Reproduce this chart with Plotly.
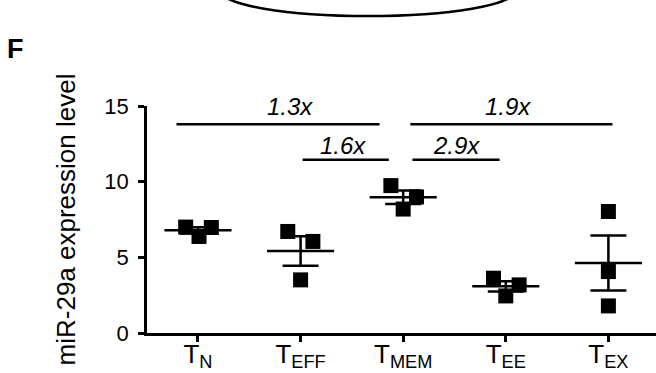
import numpy as np
import plotly.graph_objects as go

# ---- data ----
groups = ["N", "EFF", "MEM", "EE", "EX"]
tick_labels = ["T<sub>N</sub>", "T<sub>EFF</sub>", "T<sub>MEM</sub>", "T<sub>EE</sub>", "T<sub>EX</sub>"]
t_n = [7.00, 6.38, 6.97]
t_eff = [6.71, 6.05, 3.51]
t_mem = [9.74, 8.99, 8.19]
t_ee = [3.62, 3.18, 2.45]
t_ex = [8.03, 4.06, 1.79]
series = [t_n, t_eff, t_mem, t_ee, t_ex]
# horizontal scatter offsets of the dots within each column (category units)
jitter = [[-0.12, 0.01, 0.13], [-0.125, 0.12, 0.0], [-0.12, 0.13, 0.0],
          [-0.12, 0.13, 0.0], [0.0, 0.0, 0.0]]
fold_labels = ["1.3x", "1.6x", "1.9x", "2.9x"]
y_ticks = [0, 5, 10, 15]

FONT = "Arial, Liberation Sans, sans-serif"
W, H = 656, 373
L, R, T, B = 147, 0, 106, 40
PW, PH = W - L - R, H - T - B


def px(x):
    return (x - L) / PW


def py(y):
    return (H - B - y) / PH


fig = go.Figure()

xs, ys = [], []
for i, vals in enumerate(series):
    for v, j in zip(vals, jitter[i]):
        xs.append(i + j)
        ys.append(v)

fig.add_trace(go.Scatter(x=xs, y=ys, mode="markers",
                         marker=dict(symbol="square", size=15, color="black",
                                     line=dict(width=0)),
                         hoverinfo="skip", cliponaxis=False))

for i, vals in enumerate(series):
    arr = np.array(vals, dtype=float)
    m = arr.mean()
    sem = arr.std(ddof=1) / np.sqrt(len(arr))
    fig.add_trace(go.Scatter(x=[i - 0.327, i + 0.327], y=[m, m], mode="lines",
                             line=dict(color="black", width=2.5),
                             hoverinfo="skip", cliponaxis=False))
    fig.add_trace(go.Scatter(x=[i], y=[m], mode="markers",
                             marker=dict(size=1, color="rgba(0,0,0,0)"),
                             error_y=dict(type="data", array=[sem], visible=True,
                                          color="black", thickness=2.5, width=18),
                             hoverinfo="skip", cliponaxis=False))

# comparison lines
brackets = [(-0.21, 1.77, 13.79), (1.02, 1.86, 11.45), (2.07, 4.04, 13.79), (2.09, 2.94, 11.45)]
label_pos = [(0.897, 14.94), (1.41, 12.36), (3.02, 14.94), (2.52, 12.36)]
for (x0, x1, yy), lab, (lx, ly) in zip(brackets, fold_labels, label_pos):
    fig.add_shape(type="line", xref="x", yref="y", x0=x0, x1=x1, y0=yy, y1=yy,
                  line=dict(color="black", width=2.5))
    fig.add_annotation(x=lx, y=ly, xref="x", yref="y", text=f"<i>{lab}</i>",
                       xanchor="center", yanchor="middle",
                       showarrow=False, font=dict(family=FONT, size=24, color="black"))

# panel letter
fig.add_annotation(x=px(15), y=py(49), xref="paper", yref="paper", text="<b>F</b>",
                   xanchor="center", yanchor="middle",
                   showarrow=False, font=dict(family=FONT, size=27, color="black"))

# fragment of the arc from the panel above
fig.add_shape(type="circle", xref="paper", yref="paper",
              x0=px(368 - 147), x1=px(368 + 147), y0=py(16), y1=py(-34),
              line=dict(color="black", width=2.5), fillcolor="rgba(0,0,0,0)")

fig.update_layout(
    width=W, height=H,
    margin=dict(l=L, r=R, t=T, b=B, pad=0),
    plot_bgcolor="white", paper_bgcolor="white",
    showlegend=False,
    font=dict(family=FONT, color="black"),
    xaxis=dict(range=[-0.497, 4.464], tickmode="array", tickvals=list(range(len(groups))),
               ticktext=tick_labels, showgrid=False, zeroline=False,
               showline=True, linecolor="black", linewidth=2.5,
               ticks="outside", ticklen=6, tickwidth=2.5, tickcolor="black",
               automargin=False, ticklabelstandoff=-10,
               tickfont=dict(family=FONT, size=26, color="black")),
    yaxis=dict(range=[0, 15], tickmode="array", tickvals=y_ticks,
               showgrid=False, zeroline=False,
               showline=True, linecolor="black", linewidth=2.5,
               ticks="outside", ticklen=6, tickwidth=2.5, tickcolor="black",
               ticklabelstandoff=5, automargin=False,
               tickfont=dict(family=FONT, size=22, color="black"),
               title=dict(text="miR-29a expression level", standoff=22,
                          font=dict(family=FONT, size=26, color="black"))),
)

fig.write_html("out.html", config={"displayModeBar": False},
               post_script="document.body.style.margin='0';")
